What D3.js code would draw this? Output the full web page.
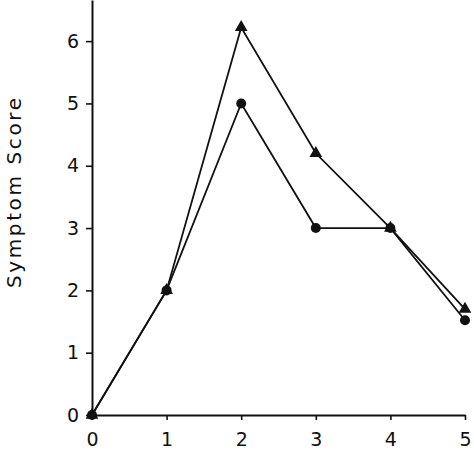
<!DOCTYPE html>
<html><head><meta charset="utf-8">
<script src="https://cdn.jsdelivr.net/npm/d3@7"></script>
<style>body{margin:0;background:#fff}svg{display:block}</style>
</head><body>
<svg id="c" width="474" height="474"></svg>
<script>
const xValues = [0, 1, 2, 3, 4, 5];
const circleSeries = [0, 2, 5, 3, 3, 1.52];
const triangleSeries = [0, 2, 6.22, 4.2, 3, 1.7];
const xTicks = [0, 1, 2, 3, 4, 5];
const yTicks = [0, 1, 2, 3, 4, 5, 6];
const yLabel = "Symptom Score";

const svg = d3.select("#c");
const x = d3.scaleLinear().domain([0, 5]).range([92, 465]);
const y = d3.scaleLinear().domain([0, 6.66]).range([415, 0]);
const font = "DejaVu Sans, Verdana, sans-serif";

const xAxis = svg.append("g").attr("transform", `translate(0,${y(0)})`)
  .call(d3.axisBottom(x).tickValues(xTicks).tickSize(5).tickPadding(13).tickSizeOuter(0).tickFormat(d3.format("d")));
const yAxis = svg.append("g").attr("transform", `translate(${x(0)},0)`)
  .call(d3.axisLeft(y).tickValues(yTicks).tickSize(6).tickPadding(7).tickSizeOuter(0).tickFormat(d3.format("d")));
[xAxis, yAxis].forEach(g => {
  g.select(".domain").attr("stroke", "#111").attr("stroke-width", 2);
  g.selectAll(".tick line").attr("stroke", "#111").attr("stroke-width", 1.6);
  g.selectAll("text").attr("font-family", font).attr("font-size", 19).attr("fill", "#111");
});

svg.append("text")
  .attr("transform", `translate(21,193) rotate(-90)`)
  .attr("text-anchor", "middle")
  .attr("font-family", font).attr("font-size", 20)
  .attr("textLength", 190).attr("lengthAdjust", "spacing")
  .attr("fill", "#111").text(yLabel);

const line = d3.line().x((d, i) => x(xValues[i])).y(d => y(d));
[triangleSeries, circleSeries].forEach(s => {
  svg.append("path").datum(s).attr("d", line)
    .attr("fill", "none").attr("stroke", "#111").attr("stroke-width", 1.8);
});

const tri = d3.symbol().type(d3.symbolTriangle).size(70);
svg.selectAll(".tri").data(triangleSeries).enter().append("path")
  .attr("d", tri)
  .attr("transform", (d, i) => `translate(${x(xValues[i])},${y(d)})`)
  .attr("fill", "#111");
svg.selectAll(".cir").data(circleSeries).enter().append("circle")
  .attr("cx", (d, i) => x(xValues[i])).attr("cy", d => y(d)).attr("r", 5)
  .attr("fill", "#111");
</script>
</body></html>
